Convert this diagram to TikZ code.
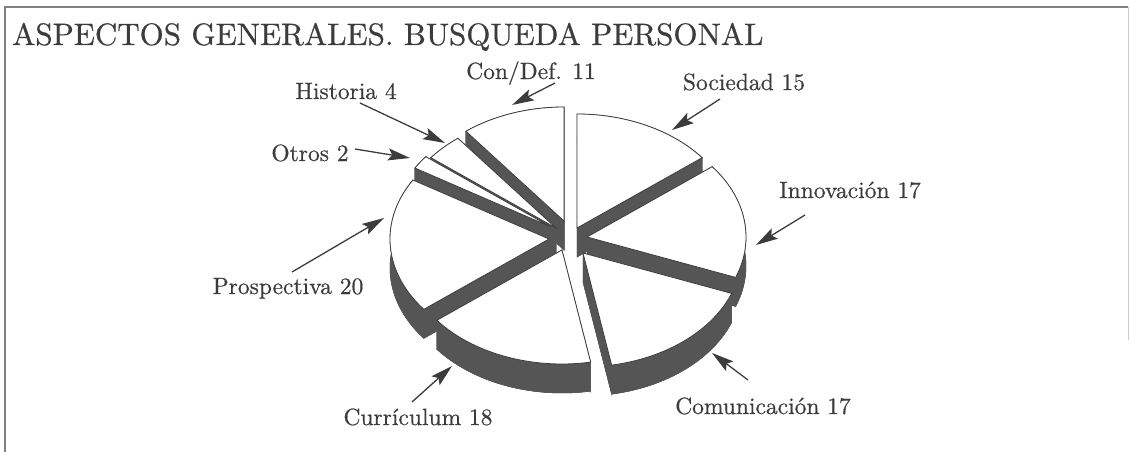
\documentclass[tikz,border=0pt]{standalone}
\usepackage{fontspec}
\newfontfamily\chartfont{lmroman10-regular.otf}[FakeBold=0.6]
\usetikzlibrary{arrows.meta}
\definecolor{darkgrey}{RGB}{60,60,60}
\definecolor{shade}{RGB}{85,85,85}

\begin{document}
\begin{tikzpicture}[x=1pt, y=-1pt,
  lbl/.style={anchor=base, inner sep=0pt, text=darkgrey, font=\chartfont\fontsize{23.5}{24}\selectfont},
  pointer/.style={darkgrey, line width=1.3pt, -{Stealth[length=22pt, width=12pt, inset=4pt]}},
  slicewall/.style={fill=shade, draw=shade, line width=0.5pt},
  slicetop/.style={fill=white, draw=darkgrey, line width=0.8pt}]

  \useasboundingbox (0,0) rectangle (1130,452);

  %frame
  \draw[gray, line width=2pt] (5,452) -- (5,7) -- (1128,7);
  \draw[gray!40, line width=1pt] (1128,7) -- (1128,340);

  \draw (12,45) node[anchor=base west, inner sep=0pt, text=darkgrey,
    font=\chartfont\fontsize{31}{32}\selectfont](title) {ASPECTOS GENERALES. BUSQUEDA PERSONAL};

  %slices: apex x / apex y / start / end, back to front
  \foreach \ax/\ay/\ta/\tb in {564/221/321.92/360, 577/228/0/51.92,
      556/228/308.08/321.92, 551/227/301.15/308.08, 549/239/231.92/301.15,
      587/237/51.92/110.77, 583/253/110.77/169.62, 562/250/169.62/231.92}{
    \filldraw[slicewall] (\ax,\ay+29) -- plot[domain=\ta:\tb, variable=\t, samples=30]
      ({\ax+159*sin(\t)},{\ay+29-114*cos(\t)}) -- cycle;
    \filldraw[slicewall] (\ax,\ay) -- ({\ax+159*sin(\ta)},{\ay-114*cos(\ta)}) -- ++(0,29) -- (\ax,\ay+29) -- cycle;
    \filldraw[slicewall] (\ax,\ay) -- ({\ax+159*sin(\tb)},{\ay-114*cos(\tb)}) -- ++(0,29) -- (\ax,\ay+29) -- cycle;
    \filldraw[slicewall] plot[domain=\ta:\tb, variable=\t, samples=30] ({\ax+159*sin(\t)},{\ay-114*cos(\t)})
      -- plot[domain=\tb:\ta, variable=\t, samples=30] ({\ax+159*sin(\t)},{\ay+29-114*cos(\t)}) -- cycle;
    \filldraw[slicetop] (\ax,\ay) -- plot[domain=\ta:\tb, variable=\t, samples=30]
      ({\ax+159*sin(\t)},{\ay-114*cos(\t)}) -- cycle;
  }

  \draw
   (531,79) node[lbl](condef) {Con/Def. 11}
   (744,90) node[lbl](soc) {Sociedad 15}
   (346,99) node[lbl](hist) {Historia 4}
   (310,161) node[lbl](otros) {Otros 2}
   (288,294) node[lbl](prosp) {Prospectiva 20}
   (850,198) node[lbl](innov) {Innovación 17}
   (763,414) node[lbl](comu) {Comunicación 17}
   (418,425) node[lbl](curri) {Currículum 18};

  %arrow tips on the slices
  \coordinate (condef-tip) at (512,105);
  \coordinate (soc-tip) at (672,130);
  \coordinate (hist-tip) at (445,143);
  \coordinate (otros-tip) at (410,158);
  \coordinate (prosp-tip) at (384,218);
  \coordinate (innov-tip) at (756,245);
  \coordinate (comu-tip) at (712,353);
  \coordinate (curri-tip) at (452,366);

  \draw[pointer] ([shift={(24,4)}]condef.base) -- (condef-tip);
  \draw[pointer] ([shift={(-24,9)}]soc.base) -- (soc-tip);
  \draw[pointer] ([shift={(14,4)}]hist.base) -- (hist-tip);
  \draw[pointer] ([shift={(45,-12)}]otros.base) -- (otros-tip);
  \draw[pointer] ([shift={(4,-22)}]prosp.base) -- (prosp-tip);
  \draw[pointer] ([shift={(-45,17)}]innov.base) -- (innov-tip);
  \draw[pointer] ([shift={(-15,-34)}]comu.base) -- (comu-tip);
  \draw[pointer] ([shift={(-6,-23)}]curri.base) -- (curri-tip);
\end{tikzpicture}
\end{document}
